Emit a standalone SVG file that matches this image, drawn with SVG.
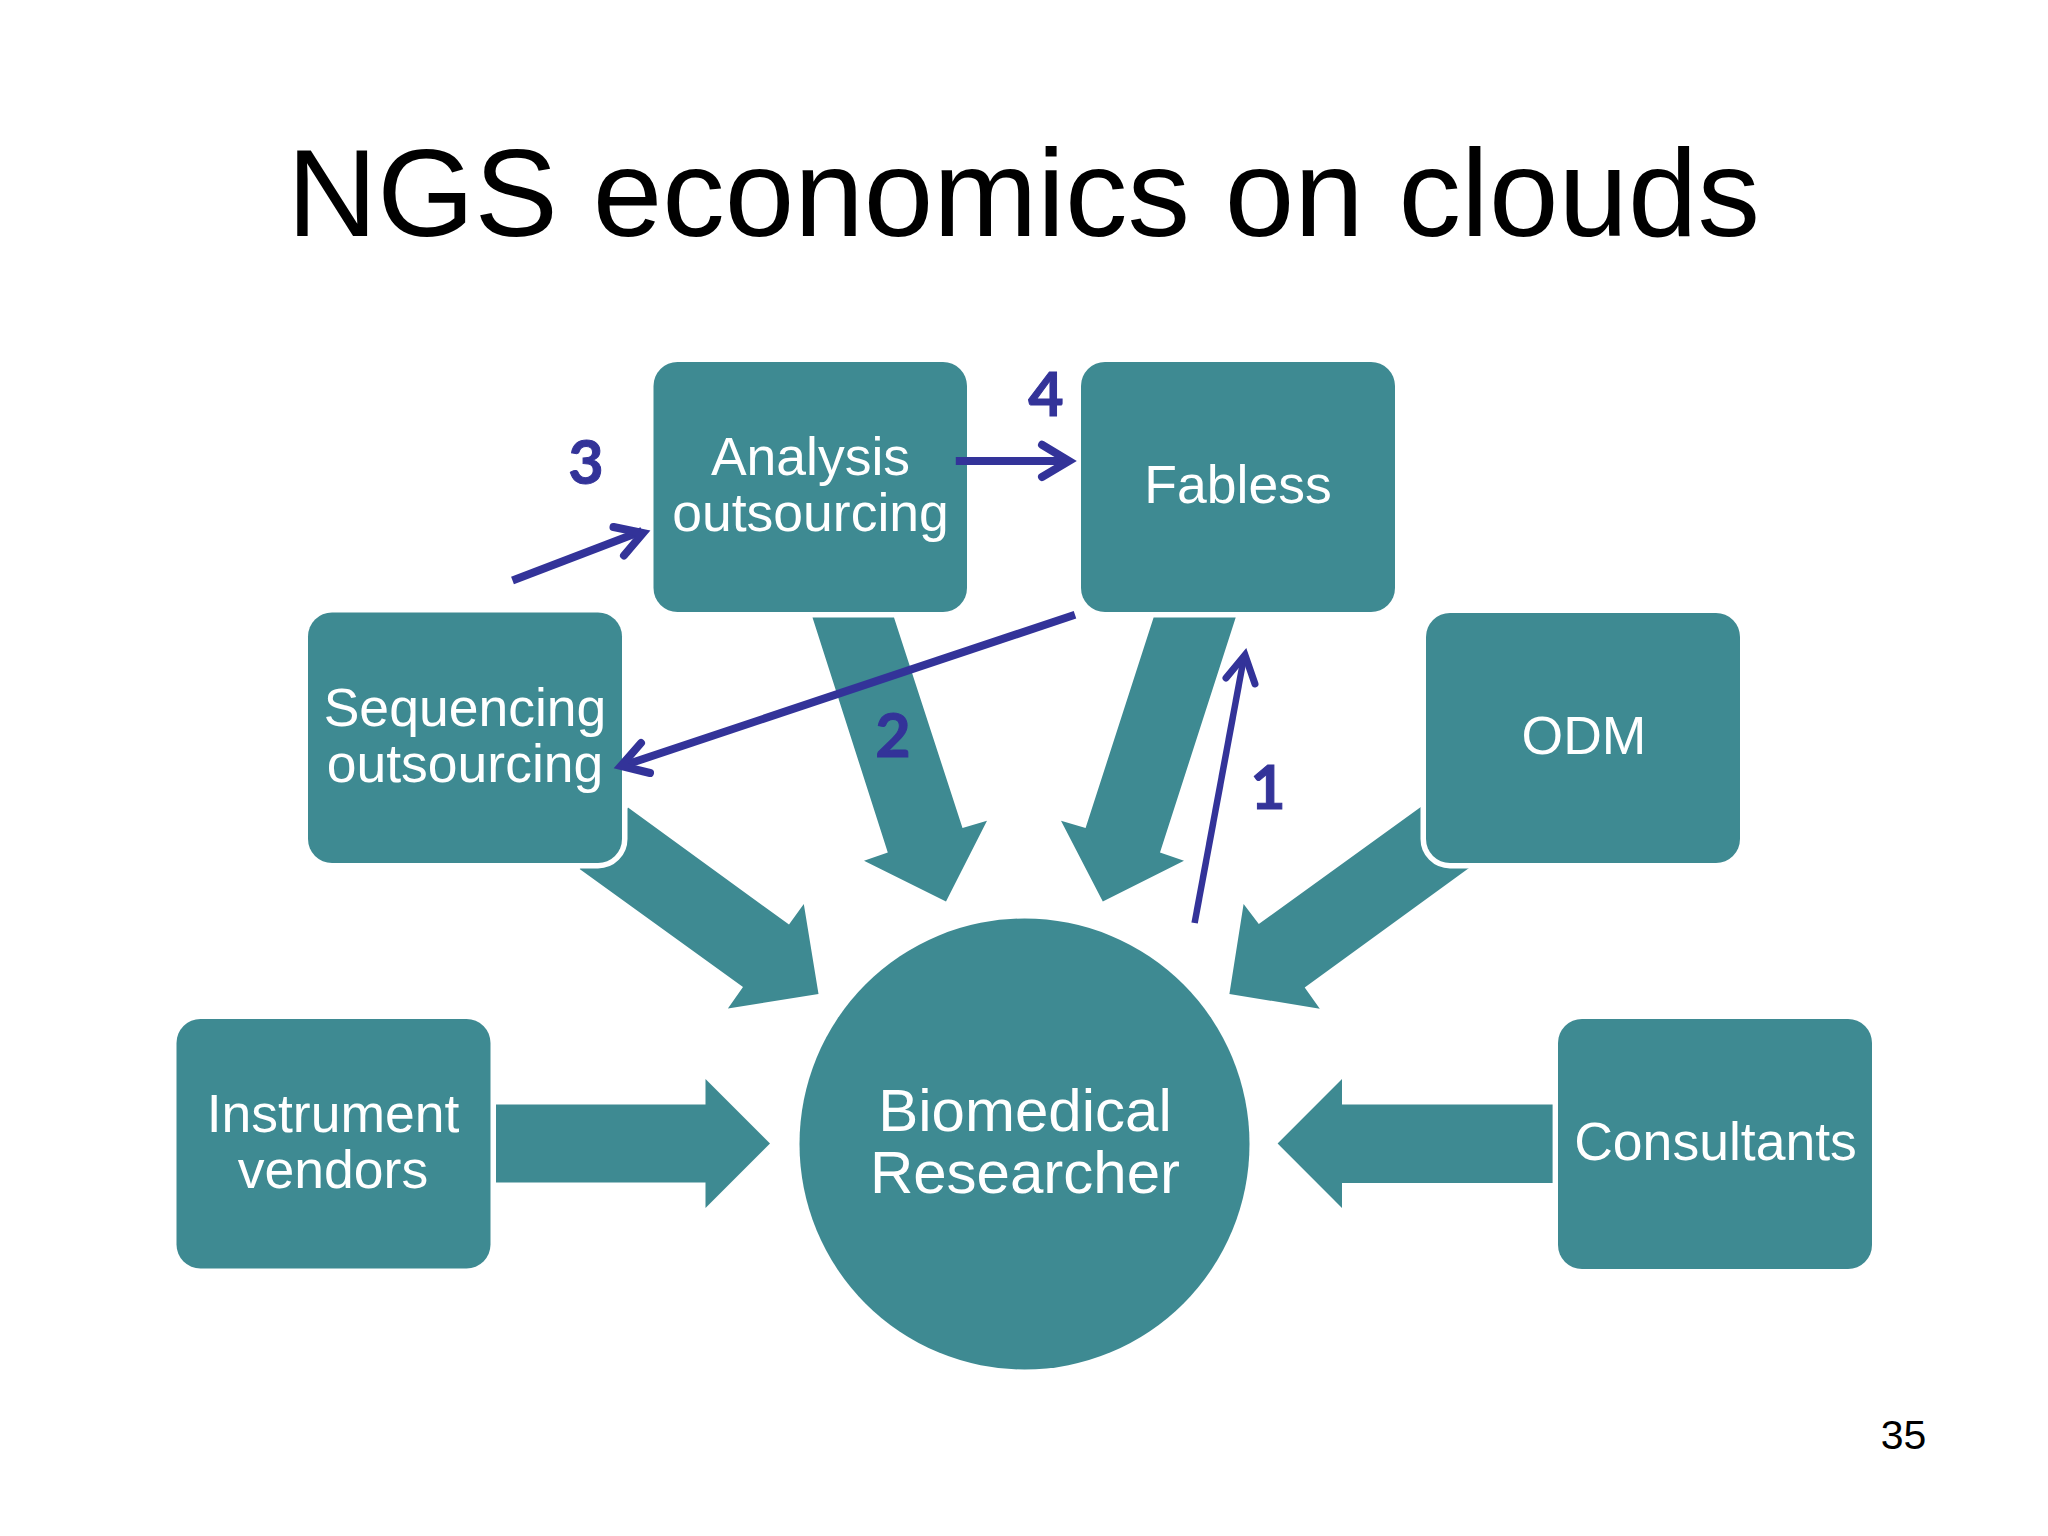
<svg xmlns="http://www.w3.org/2000/svg" width="2048" height="1536" viewBox="0 0 2048 1536">
<defs><style>
.box{fill:#3e8a92}
.halo{stroke:#fff;stroke-width:11;paint-order:stroke}
.t{font-family:"Liberation Sans",Arial,sans-serif;font-size:53.5px;fill:#fff;text-anchor:middle}
.n{font-family:Lato,sans-serif;font-weight:700;font-size:61px;fill:#333399;stroke:#333399;stroke-width:1;text-anchor:middle}
.b{fill:none;stroke:#333399;stroke-width:8}
.h{fill:none;stroke:#333399;stroke-width:8;stroke-linecap:round;stroke-linejoin:miter}
</style></defs>
<rect width="2048" height="1536" fill="#fff"/>
<text x="1023.5" y="236" font-family="Liberation Sans,Arial,sans-serif" font-size="125" text-anchor="middle" fill="#000">NGS economics on clouds</text>
<g id="connectors">
<polygon class="box" points="496,1104.6 705.5,1104.6 705.5,1079 770,1143.6 705.5,1208 705.5,1182.6 496,1182.6"/>
<polygon class="box" points="1552.6,1104.6 1342,1104.6 1342,1079 1277.6,1143.6 1342,1208 1342,1183 1552.6,1183"/>
<polygon class="box" points="628,807.5 789,924.6 803.8,904 818.5,994 727.9,1008.6 743,987 579.6,869"/>
<polygon class="box" points="1420.8,807 1258.8,924 1243.6,904 1229.4,994 1319.8,1008.7 1304.7,987.5 1469,868"/>
<polygon class="box" points="812.5,617.6 894,617.6 962.5,828 987,820.8 946,901.5 864,860.8 887.8,852.4"/>
<polygon class="box" points="1153.6,617.6 1235.7,617.6 1160,852.4 1184,860.8 1102.8,901.5 1061,820.8 1085.6,828"/>
</g>
<g id="analysis"><rect class="box" x="653.5" y="362" width="313.5" height="250" rx="24"/><text class="t" x="810.5" y="474.5">Analysis</text><text class="t" x="810.5" y="530.5">outsourcing</text></g>
<g id="fabless"><rect class="box" x="1081" y="362" width="314" height="250" rx="24"/><text class="t" x="1238" y="502.5">Fabless</text></g>
<g id="sequencing"><rect class="box halo" x="308" y="612.5" width="314" height="250.5" rx="24"/><text class="t" x="465" y="726">Sequencing</text><text class="t" x="465" y="782">outsourcing</text></g>
<g id="odm"><rect class="box halo" x="1426" y="613" width="314" height="250" rx="24"/><text class="t" x="1584" y="754">ODM</text></g>
<g id="instrument"><rect class="box" x="176.5" y="1019" width="314" height="249.5" rx="24"/><text class="t" x="333" y="1131.7">Instrument</text><text class="t" x="333" y="1187.7">vendors</text></g>
<g id="consultants"><rect class="box" x="1558" y="1019" width="314" height="250" rx="24"/><text class="t" x="1715.5" y="1159.7">Consultants</text></g>
<g id="researcher"><ellipse class="box" cx="1024.5" cy="1144" rx="225" ry="225.5"/><text class="t" style="font-size:60px" x="1025" y="1131">Biomedical</text><text class="t" style="font-size:60px" x="1025" y="1193">Researcher</text></g>
<g id="annotations">
<path class="b" d="M955.8 461H1066"/><path class="h" d="M1042 444.8L1069 461L1042 477"/>
<path class="b" d="M512.5 580.4L642 531"/><path class="h" d="M613.5 527L643 533L624 555.5"/>
<path class="b" d="M1075 614.8L622 766"/><path class="h" d="M641 743L621 766L650 773"/>
<path class="b" style="stroke-width:6.5" d="M1194.6 923L1244 657"/><path class="h" style="stroke-width:7" d="M1226 678L1245 655L1255 684"/>
<text class="n" x="586" y="484">3</text><text class="n" x="1046" y="416">4</text><text class="n" x="893" y="757">2</text><text class="n" x="1268" y="808.5">1</text>
</g>
<text x="1903.5" y="1448.5" font-family="Liberation Sans,Arial,sans-serif" font-size="41" text-anchor="middle" fill="#000">35</text>
</svg>
